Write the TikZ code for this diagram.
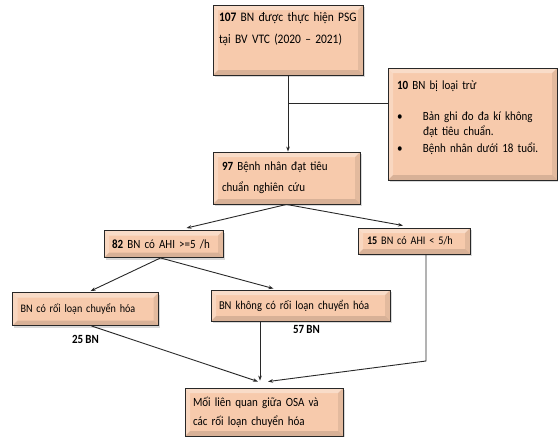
\documentclass[tikz,border=0pt]{standalone}
\usepackage{fontspec}
\setmainfont{Carlito}[FakeStretch=0.88]
\usetikzlibrary{
    arrows.meta, % for the arrow tips
    shadows, % for the soft shadow under each box
    positioning % for the two count labels
}
\definecolor{boxfill}{RGB}{247,202,172}
\definecolor{linegray}{RGB}{40,40,40}
\newcommand\flowfont[2]{\fontsize{#1}{#2}\selectfont\spaceskip=0.18em plus 0.1em minus 0.05em\relax}

\begin{document}
\begin{tikzpicture}[
        x=1pt,y=-1pt,>={Stealth[length=5pt,width=3.6pt]},
        box/.style        = {draw=linegray,line width=0.9pt,fill=boxfill,align=left,
                             inner xsep=9pt,inner ysep=0pt,
                             font=\flowfont{12.5}{21},
                             drop shadow={opacity=.3,shadow xshift=1.5pt,shadow yshift=-2pt},
                             path picture={
                               \fill[white,opacity=.35] (path picture bounding box.north west)
                                 -- (path picture bounding box.north east)
                                 -- ([xshift=-5pt,yshift=-5pt]path picture bounding box.north east)
                                 -- ([xshift=5pt,yshift=-5pt]path picture bounding box.north west) -- cycle;
                               \fill[white,opacity=.25] (path picture bounding box.north west)
                                 -- (path picture bounding box.south west)
                                 -- ([xshift=5pt,yshift=5pt]path picture bounding box.south west)
                                 -- ([xshift=5pt,yshift=-5pt]path picture bounding box.north west) -- cycle;
                               \fill[black,opacity=.12] (path picture bounding box.south west)
                                 -- (path picture bounding box.south east)
                                 -- ([xshift=-5pt,yshift=5pt]path picture bounding box.south east)
                                 -- ([xshift=5pt,yshift=5pt]path picture bounding box.south west) -- cycle;
                               \fill[black,opacity=.08] (path picture bounding box.north east)
                                 -- (path picture bounding box.south east)
                                 -- ([xshift=-5pt,yshift=5pt]path picture bounding box.south east)
                                 -- ([xshift=-5pt,yshift=-5pt]path picture bounding box.north east) -- cycle;
                             }},
        pad below/.style  = {execute at end node={\endgraf\vspace*{#1}\hrule height 0pt}},
        count label/.style= {font=\flowfont{12.5}{14}\bfseries,inner sep=1pt},
        link/.style       = {draw=linegray,line width=0.9pt}
    ]
    \useasboundingbox (0,0) rectangle (558,437);

    % boxes
    \node [box,minimum width=150pt,text width=138pt,minimum height=70pt,pad below=22pt,
           inner xsep=6pt,font=\flowfont{13}{22}]
        (b107) at (288,40) {\textbf{107} BN được thực hiện PSG\\ tại BV VTC (2020 – 2021)};
    \node [box,minimum width=169pt,text width=151pt,minimum height=112pt,pad below=12pt,
           font=\flowfont{12.5}{15}]
        (bexcl) at (472.5,124) {\textbf{10} BN bị loại trừ\\[16pt]
            \makebox[26pt][l]{\textbullet}Bản ghi đo đa kí không\\
            \hspace*{26pt}đạt tiêu chuẩn.\\[2pt]
            \makebox[26pt][l]{\textbullet}Bệnh nhân dưới 18 tuổi.};
    \node [box,minimum width=147pt,text width=129pt,minimum height=52pt]
        (b97) at (286.5,178) {\textbf{97} Bệnh nhân đạt tiêu\\ chuẩn nghiên cứu};
    \node [box,minimum width=119pt,text width=103pt,minimum height=27pt,inner xsep=8pt]
        (b82) at (163.5,244) {\textbf{82} BN có AHI >=5 /h};
    \node [box,minimum width=112pt,text width=94pt,minimum height=26pt,
           font=\flowfont{11.6}{21}]
        (b15) at (414,241) {\textbf{15} BN có AHI < 5/h};
    \node [box,minimum width=146pt,text width=130pt,minimum height=33pt,inner xsep=8pt,
           font=\flowfont{11.5}{21}]
        (bmeta) at (85.5,309) {BN có rối loạn chuyển hóa};
    \node [box,minimum width=179pt,text width=163pt,minimum height=31pt,inner xsep=8pt,
           font=\flowfont{12}{21}]
        (bnometa) at (300.5,305.5) {BN không có rối loạn chuyển hóa};
    \node [box,minimum width=158pt,text width=142pt,minimum height=48pt,inner xsep=8pt,
           font=\flowfont{12.5}{19}]
        (bosa) at (264,412) {Mối liên quan giữa OSA và\\ các rối loạn chuyển hóa};

    % counts
    \node [count label] (n25) [below=8pt of bmeta] {25 BN};
    \node [count label] (n57) [below=3pt of bnometa,xshift=6pt] {57 BN};

    % connectors
    \coordinate (jx) at (288,103);
    \coordinate (t1) at ([xshift=-6pt,yshift=6pt]bosa.north);
    \coordinate (t2) at ([xshift=-4pt,yshift=7pt]bosa.north);
    \coordinate (t3) at ([xshift=4pt,yshift=6pt]bosa.north);
    \coordinate (k15) at ([xshift=12pt]b15.south |- 0,361);

    \draw [link,->] (b107.south) -- (b107.south |- b97.north);
    \draw [link] (jx) -- (jx -| bexcl.west);
    \draw [link,->] (b97.south) -- ([xshift=23pt,yshift=2pt]b82.north);
    \draw [link,->] (b97.south) -- ([xshift=-11pt,yshift=2pt]b15.north);
    \draw [link,->] ([xshift=-3pt]b82.south) -- ([xshift=5pt,yshift=1pt]bmeta.north);
    \draw [link,->] ([xshift=-3pt]b82.south) -- ([xshift=-27pt,yshift=1pt]bnometa.north);
    \draw [link,->] ([xshift=6pt]bmeta.south) -- (t1);
    \draw [link,->,line width=0.7pt] ([xshift=-40.5pt]bnometa.south) -- (t2);
    \draw [link,->] ([xshift=12pt]b15.south) -- (k15) -- (t3);

\end{tikzpicture}
\end{document}
